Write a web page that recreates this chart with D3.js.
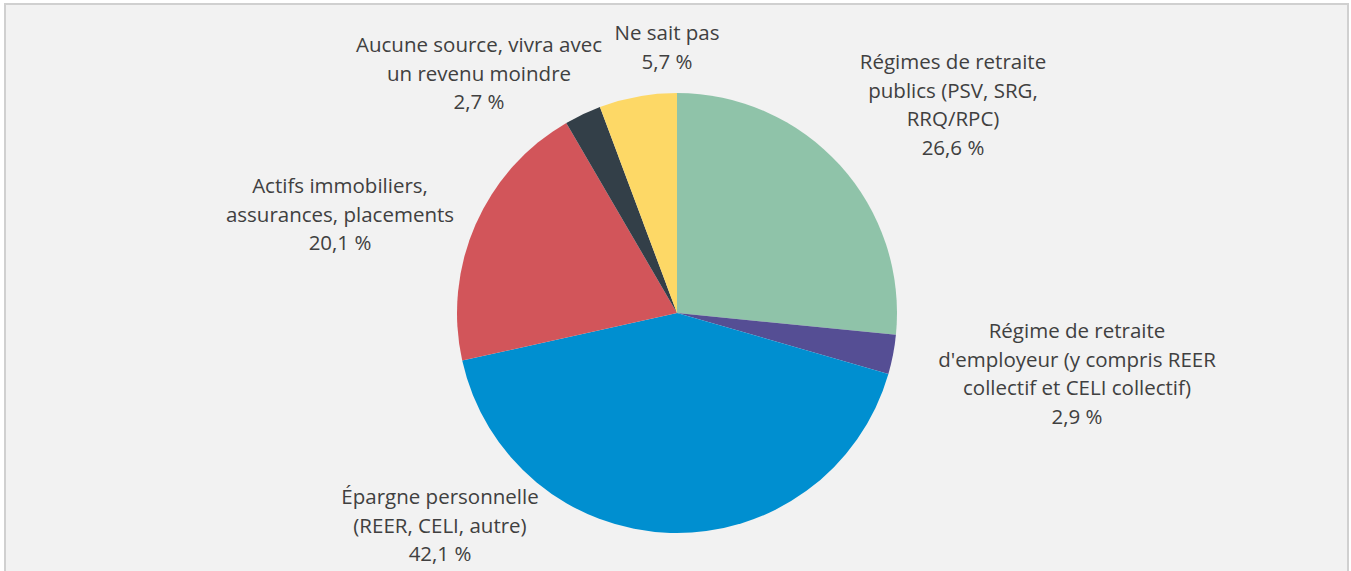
<!DOCTYPE html>
<html lang="fr">
<head>
<meta charset="utf-8">
<title>Sources de revenu à la retraite</title>
<script src="https://cdn.jsdelivr.net/npm/d3@7/dist/d3.min.js"></script>
<style>
  html, body { margin: 0; padding: 0; background: #ffffff; }
  svg { display: block; }
  text { font-family: "Open Sans", "DejaVu Sans", sans-serif; fill: #404040; }
</style>
</head>
<body>
<svg id="chart" width="1351" height="571"></svg>
<script>
// Categories (in clockwise order from 12 o'clock) and their shares in %
const categories = [
  "Régimes de retraite publics (PSV, SRG, RRQ/RPC)",
  "Régime de retraite d'employeur (y compris REER collectif et CELI collectif)",
  "Épargne personnelle (REER, CELI, autre)",
  "Actifs immobiliers, assurances, placements",
  "Aucune source, vivra avec un revenu moindre",
  "Ne sait pas"
];
const values = [26.6, 2.9, 42.1, 20.1, 2.7, 5.7];

// Label text, broken into lines as displayed
const labelLines = [
  ["Régimes de retraite", "publics (PSV, SRG,", "RRQ/RPC)"],
  ["Régime de retraite", "d'employeur (y compris REER", "collectif et CELI collectif)"],
  ["Épargne personnelle", "(REER, CELI, autre)"],
  ["Actifs immobiliers,", "assurances, placements"],
  ["Aucune source, vivra avec", "un revenu moindre"],
  ["Ne sait pas"]
];

const colors = ["#8fc3a9", "#554e94", "#008fd0", "#d2555a", "#333f48", "#fdd866"];

// Layout
const width = 1351, height = 571;
const cx = 677, cy = 313, radius = 220;
const lineHeight = 28.7;
// Label anchors: horizontal centre and baseline of the first line
const labelAnchors = [
  [953, 69], [1077, 338], [440, 504], [340, 193], [479, 52], [667, 40]
];

const svg = d3.select("#chart");

// Chart area background and frame
svg.append("rect")
  .attr("x", 5).attr("y", 4)
  .attr("width", 1343).attr("height", 620)
  .attr("fill", "#f2f2f2")
  .attr("stroke", "#d0d0d0")
  .attr("stroke-width", 2);

const data = categories.map((c, i) => ({ category: c, value: values[i], lines: labelLines[i], color: colors[i] }));

const pie = d3.pie().value(d => d.value).sort(null);
const arc = d3.arc().innerRadius(0).outerRadius(radius);

const g = svg.append("g").attr("transform", `translate(${cx},${cy})`);

g.selectAll("path.slice")
  .data(pie(data))
  .join("path")
  .attr("class", "slice")
  .attr("d", arc)
  .attr("fill", d => d.data.color);

const fmt = v => d3.format(".1f")(v).replace(".", ",") + "\u00a0%";

const labels = svg.append("g").attr("class", "labels")
  .selectAll("text")
  .data(data)
  .join("text")
  .attr("text-anchor", "middle")
  .attr("font-size", 20.5)
  .attr("transform", (d, i) => `translate(${labelAnchors[i][0]},${labelAnchors[i][1]})`);

labels.each(function(d) {
  const t = d3.select(this);
  const lines = d.lines.concat([fmt(d.value)]);
  lines.forEach((ln, k) => {
    t.append("tspan").attr("x", 0).attr("y", k * lineHeight).text(ln);
  });
});
</script>
</body>
</html>
